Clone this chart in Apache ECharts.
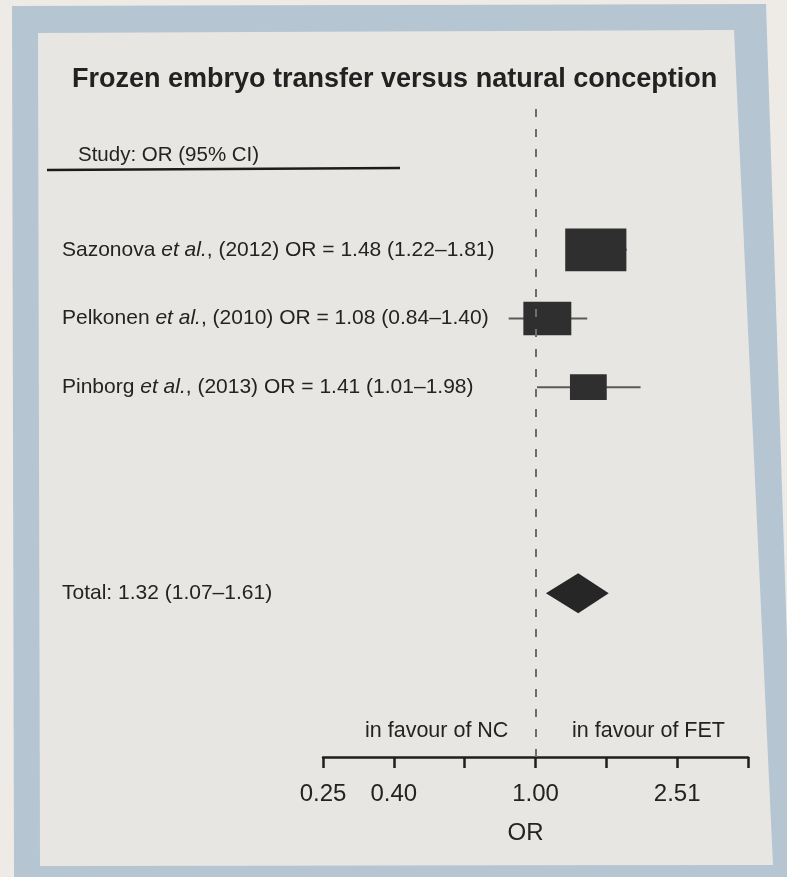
<!DOCTYPE html>
<html>
<head>
<meta charset="utf-8">
<script src="https://cdn.jsdelivr.net/npm/echarts@6/dist/echarts.min.js"></script>
<style>
  html, body { margin: 0; padding: 0; background: #eeebe7; }
  #wrap { position: relative; width: 787px; height: 877px; overflow: hidden; }
  #blue { position: absolute; left: 0; top: 0; width: 787px; height: 877px; background: #b5c5d2;
          clip-path: polygon(12px 6px, 766px 4px, 787px 640px, 787px 877px, 14px 877px); }
  #panel { position: absolute; left: 0; top: 0; width: 787px; height: 877px; background: #e8e6e3;
           clip-path: polygon(38px 33px, 734px 30px, 773px 865px, 40px 866px); }
  #chart { position: absolute; left: 0; top: 0; width: 787px; height: 877px; }
</style>
</head>
<body>
<div id="wrap">
  <div id="blue"></div>
  <div id="panel"></div>
  <div id="chart"></div>
</div>
<script>
// ---- data ----
const studies = ['Sazonova', 'Pelkonen', 'Pinborg'];
const years = [2012, 2010, 2013];
const orValues = [1.48, 1.08, 1.41];
const ciLow = [1.22, 0.84, 1.01];
const ciHigh = [1.81, 1.40, 1.98];
const weights = [50.6, 31.1, 18.3];          // relative study weights
const totalOR = 1.32;
const totalLow = 1.07;
const totalHigh = 1.61;
const tickLabels = ['0.25', '0.40', '', '1.00', '', '2.51', ''];
const favourLabels = ['in favour of NC', 'in favour of FET'];
const titleText = 'Frozen embryo transfer versus natural conception';
const headerText = 'Study: OR (95% CI)';
const axisName = 'OR';

// ---- build ----
const FONT = '"Liberation Sans", Arial, sans-serif';
const TXT = '#232323';
const fmt = v => v.toFixed(2);
const studyLabels = studies.map((s, i) =>
  s + ' et al., (' + years[i] + ') OR = ' + fmt(orValues[i]) + ' (' + fmt(ciLow[i]) + '–' + fmt(ciHigh[i]) + ')');
const totalLabel = 'Total: ' + fmt(totalOR) + ' (' + fmt(totalLow) + '–' + fmt(totalHigh) + ')';
const rows = studyLabels.concat([' ', '  ', totalLabel]);

const seriesData = studies.map((s, i) => [i, Math.log10(orValues[i]), Math.log10(ciLow[i]), Math.log10(ciHigh[i]), weights[i], 0]);
seriesData.push([rows.length - 1, Math.log10(totalOR), Math.log10(totalLow), Math.log10(totalHigh), 0, 1]);

const GL = 323, GW = 425;
const LFS = 21;
const chart = echarts.init(document.getElementById('chart'), null, { renderer: 'canvas' });

chart.setOption({
  animation: false,
  title: {
    text: titleText, left: 67, top: 61,
    textStyle: { fontFamily: FONT, fontSize: 27, fontWeight: 'bold', color: '#222' }
  },
  grid: [
    { left: GL, width: GW, top: 215.5, height: 412, containLabel: false },
    { left: GL, width: GW, top: 97, height: 660, containLabel: false }
  ],
  xAxis: [
    { gridIndex: 0, type: 'value', min: -0.6, max: 0.6, interval: 0.2, show: false },
    { gridIndex: 1, type: 'value', min: -0.6, max: 0.6, interval: 0.2, position: 'bottom',
      axisLine: { show: true, lineStyle: { color: '#1f1f1f', width: 2.5 } },
      axisTick: { show: true, length: 11, lineStyle: { color: '#1f1f1f', width: 2.5 } },
      splitLine: { show: false },
      axisLabel: { margin: 25, fontFamily: FONT, fontSize: 24, color: TXT,
        formatter: (v, idx) => tickLabels[idx] || '' },
      name: axisName, nameLocation: 'middle', nameGap: 64,
      nameTextStyle: { fontFamily: FONT, fontSize: 24, color: TXT, padding: [0, 20, 0, 0] }
    }
  ],
  yAxis: [
    { gridIndex: 0, type: 'category', data: rows, inverse: true,
      axisLine: { show: false }, axisTick: { show: false }, splitLine: { show: false },
      axisLabel: { show: true, align: 'left', margin: GL - 62, fontFamily: FONT, fontSize: LFS, color: TXT,
        formatter: v => {
          if (v.trim() === '') return '';
          const p = v.split('et al.');
          return p.length === 2 ? '{n|' + p[0] + '}{i|et al.}{n|' + p[1] + '}' : '{n|' + v + '}';
        },
        rich: {
          n: { fontFamily: FONT, fontSize: LFS, lineHeight: 26, color: TXT, verticalAlign: 'middle' },
          i: { fontFamily: FONT, fontSize: LFS, lineHeight: 26, fontStyle: 'italic', color: TXT, verticalAlign: 'middle' }
        } }
    },
    { gridIndex: 1, type: 'value', min: 0, max: 1, show: false }
  ],
  graphic: [
    { type: 'text', left: 78, top: 145,
      style: { text: headerText, font: '20.5px ' + FONT, fill: TXT } },
    { type: 'line', shape: { x1: 47, y1: 170, x2: 400, y2: 168 },
      style: { stroke: '#1c1c1c', lineWidth: 2.5 } },
    { type: 'text', left: 365, top: 720,
      style: { text: favourLabels[0], font: '21.5px ' + FONT, fill: TXT } },
    { type: 'text', left: 572, top: 720,
      style: { text: favourLabels[1], font: '21.5px ' + FONT, fill: TXT } }
  ],
  series: [
    {
      type: 'line', xAxisIndex: 1, yAxisIndex: 1, data: [], silent: true,
      markLine: {
        silent: true, symbol: ['none', 'none'], label: { show: false },
        lineStyle: { color: '#6e6e6e', width: 2, type: [8, 12] },
        data: [{ xAxis: Math.log10(1) }]
      }
    },
    {
      type: 'custom', xAxisIndex: 0, yAxisIndex: 0, data: seriesData, clip: false,
      encode: { x: [1, 2, 3], y: 0 },
      renderItem: function (params, api) {
        const row = api.value(0);
        const c = api.coord([api.value(1), row]);
        const lo = api.coord([api.value(2), row]);
        const hi = api.coord([api.value(3), row]);
        const isTotal = api.value(5) === 1;
        if (isTotal) {
          const h = 40;
          return {
            type: 'polygon',
            shape: { points: [[lo[0], c[1]], [c[0], c[1] - h / 2], [hi[0], c[1]], [c[0], c[1] + h / 2]] },
            style: { fill: '#262626' }
          };
        }
        const w = 8.6 * Math.sqrt(api.value(4));
        const h = w * 0.7;
        return {
          type: 'group',
          children: [
            { type: 'line', shape: { x1: lo[0], y1: c[1], x2: hi[0], y2: c[1] },
              style: { stroke: '#5a5a5a', lineWidth: 2 } },
            { type: 'rect', shape: { x: c[0] - w / 2, y: c[1] - h / 2, width: w, height: h },
              style: { fill: '#2f2f2f' } }
          ]
        };
      }
    }
  ]
});
</script>
</body>
</html>
